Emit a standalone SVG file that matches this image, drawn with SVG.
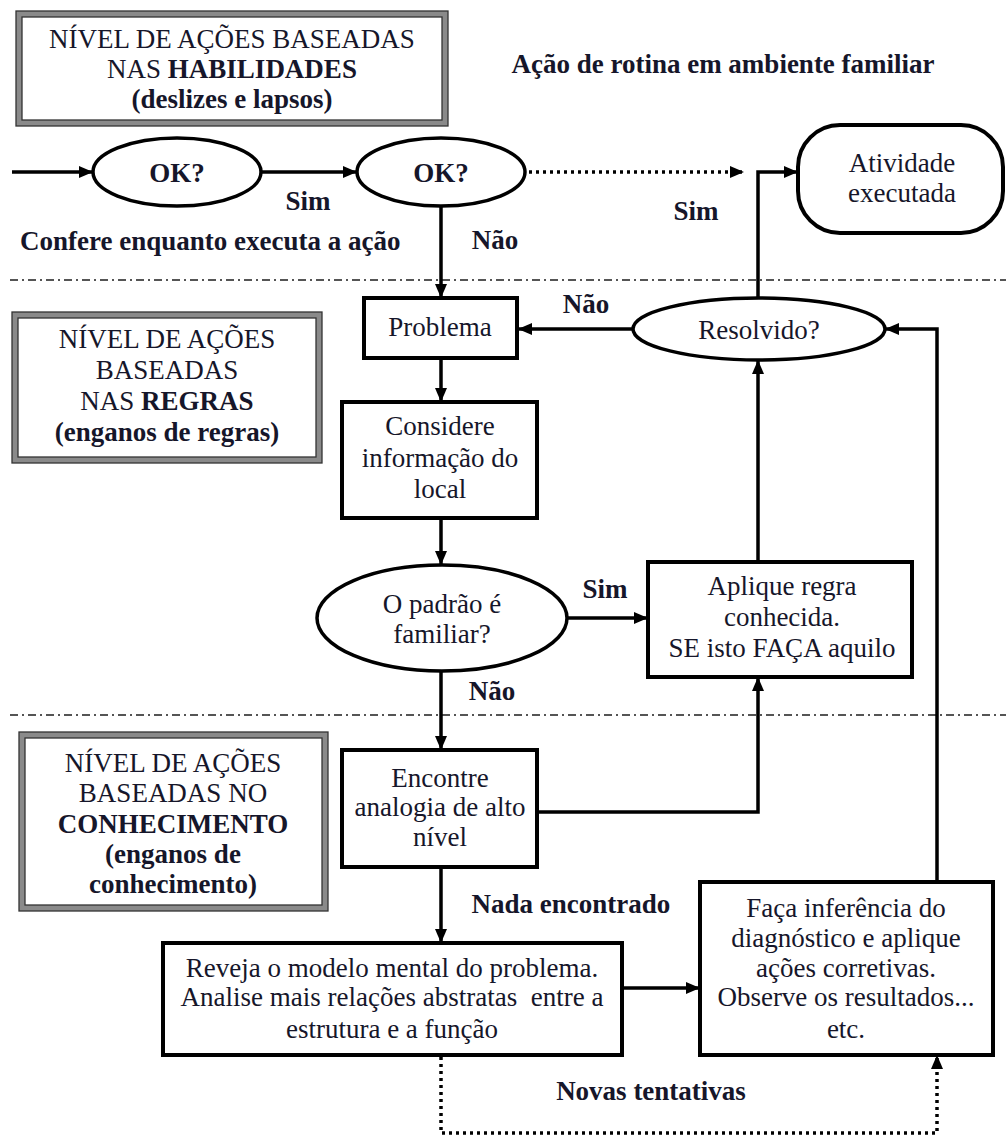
<svg xmlns="http://www.w3.org/2000/svg" width="1006" height="1137" viewBox="0 0 1006 1137">
<style>
  text { font-family: 'Liberation Serif', 'Tinos', 'DejaVu Serif', serif; font-size: 27px; fill: #16162a; text-anchor: middle; }
  .b { font-weight: bold; }
  .l { text-anchor: start; }
  .box { fill: #fff; stroke: #000; stroke-width: 4; }
  .ell { fill: #fff; stroke: #000; stroke-width: 3.5; }
  .frame-out { fill: #fff; stroke: #8a8a8a; stroke-width: 6; }
  .frame-line { fill: none; stroke: #333; stroke-width: 1.3; }
  .con { fill: none; stroke: #000; stroke-width: 3.5; }
  .dot { fill: none; stroke: #000; stroke-width: 3.5; stroke-dasharray: 3 4; }
  .sep { fill: none; stroke: #555; stroke-width: 2; stroke-dasharray: 8 4 2 4; }
</style>
<defs>
  <marker id="ah" markerUnits="userSpaceOnUse" markerWidth="14" markerHeight="12" refX="13" refY="6" orient="auto">
    <path d="M0,0 L14,6 L0,12 z" fill="#000"/>
  </marker>
</defs>
<rect width="1006" height="1137" fill="#fff"/>

<g id="separators">
  <line class="sep" x1="10" y1="280" x2="1006" y2="280"/>
  <line class="sep" x1="10" y1="715" x2="1006" y2="715"/>
</g>

<g id="connectors">
  <line class="con" x1="12" y1="172" x2="92" y2="172" marker-end="url(#ah)"/>
  <line class="con" x1="262" y1="172" x2="356" y2="172" marker-end="url(#ah)"/>
  <line class="dot" x1="529" y1="172" x2="743" y2="172" marker-end="url(#ah)"/>
  <line class="con" x1="441" y1="207" x2="441" y2="297" marker-end="url(#ah)"/>
  <polyline class="con" points="758,298 758,172 797,172" marker-end="url(#ah)"/>
  <line class="con" x1="633" y1="329" x2="519" y2="329" marker-end="url(#ah)"/>
  <line class="con" x1="441" y1="358" x2="441" y2="401" marker-end="url(#ah)"/>
  <line class="con" x1="441" y1="518" x2="441" y2="564" marker-end="url(#ah)"/>
  <line class="con" x1="567" y1="618" x2="647" y2="618" marker-end="url(#ah)"/>
  <line class="con" x1="758" y1="562" x2="758" y2="361" marker-end="url(#ah)"/>
  <line class="con" x1="441" y1="672" x2="441" y2="749" marker-end="url(#ah)"/>
  <polyline class="con" points="537,812 758,812 758,678" marker-end="url(#ah)"/>
  <line class="con" x1="441" y1="867" x2="441" y2="942" marker-end="url(#ah)"/>
  <line class="con" x1="622" y1="988" x2="699" y2="988" marker-end="url(#ah)"/>
  <polyline class="con" points="937,882 937,329 886,329" marker-end="url(#ah)"/>
  <polyline class="dot" points="441,1057 441,1133 937,1133 937,1056" marker-end="url(#ah)"/>
</g>

<g id="level-skills">
  <rect class="frame-out" x="19" y="14" width="426" height="109"/>
  <rect class="frame-line" x="16" y="11" width="432" height="115"/>
  <rect class="frame-line" x="22" y="17" width="420" height="103"/>
  <text x="232" y="48">NÍVEL DE AÇÕES BASEADAS</text>
  <text x="232" y="78">NAS <tspan class="b">HABILIDADES</tspan></text>
  <text x="232" y="108" class="b">(deslizes e lapsos)</text>
</g>

<g id="level-rules">
  <rect class="frame-out" x="15" y="315" width="304" height="145"/>
  <rect class="frame-line" x="12" y="312" width="310" height="151"/>
  <rect class="frame-line" x="18" y="318" width="298" height="139"/>
  <text x="167" y="348">NÍVEL DE AÇÕES</text>
  <text x="167" y="379">BASEADAS</text>
  <text x="167" y="410">NAS <tspan class="b">REGRAS</tspan></text>
  <text x="167" y="441" class="b">(enganos de regras)</text>
</g>

<g id="level-knowledge">
  <rect class="frame-out" x="22" y="735" width="303" height="173"/>
  <rect class="frame-line" x="19" y="732" width="309" height="179"/>
  <rect class="frame-line" x="25" y="738" width="297" height="167"/>
  <text x="173" y="772">NÍVEL DE AÇÕES</text>
  <text x="173" y="802">BASEADAS NO</text>
  <text x="173" y="833" class="b">CONHECIMENTO</text>
  <text x="173" y="863" class="b">(enganos de</text>
  <text x="173" y="893" class="b">conhecimento)</text>
</g>

<g id="labels">
  <text x="723" y="73" class="b">Ação de rotina em ambiente familiar</text>
  <text x="308" y="210" class="b">Sim</text>
  <text x="20" y="250" class="b l">Confere enquanto executa a ação</text>
  <text x="495" y="249" class="b">Não</text>
  <text x="696" y="220" class="b">Sim</text>
  <text x="586" y="313" class="b">Não</text>
  <text x="605" y="598" class="b">Sim</text>
  <text x="492" y="700" class="b">Não</text>
  <text x="571" y="913" class="b">Nada encontrado</text>
  <text x="651" y="1100" class="b">Novas tentativas</text>
</g>

<g id="ok1">
  <ellipse class="ell" cx="177" cy="172" rx="84" ry="34"/>
  <text x="177" y="182" class="b">OK?</text>
</g>

<g id="ok2">
  <ellipse class="ell" cx="441" cy="172" rx="84" ry="34"/>
  <text x="441" y="182" class="b">OK?</text>
</g>

<g id="atividade">
  <rect class="box" x="798" y="125" width="205" height="108" rx="42" ry="42"/>
  <text x="902" y="172">Atividade</text>
  <text x="902" y="202">executada</text>
</g>

<g id="problema">
  <rect class="box" x="364" y="298" width="153" height="60"/>
  <text x="440" y="336">Problema</text>
</g>

<g id="resolvido">
  <ellipse class="ell" cx="759" cy="329" rx="126" ry="31"/>
  <text x="759" y="339">Resolvido?</text>
</g>

<g id="considere">
  <rect class="box" x="342" y="402" width="195" height="116"/>
  <text x="440" y="435">Considere</text>
  <text x="440" y="467">informação do</text>
  <text x="440" y="498">local</text>
</g>

<g id="padrao">
  <ellipse class="ell" cx="442" cy="618" rx="125" ry="53"/>
  <text x="442" y="613">O padrão é</text>
  <text x="442" y="643">familiar?</text>
</g>

<g id="aplique">
  <rect class="box" x="648" y="562" width="264" height="115"/>
  <text x="782" y="595">Aplique regra</text>
  <text x="782" y="626">conhecida.</text>
  <text x="782" y="657">SE isto FAÇA aquilo</text>
</g>

<g id="encontre">
  <rect class="box" x="342" y="750" width="195" height="117"/>
  <text x="440" y="787">Encontre</text>
  <text x="440" y="816">analogia de alto</text>
  <text x="440" y="846">nível</text>
</g>

<g id="reveja">
  <rect class="box" x="163" y="943" width="459" height="112"/>
  <text x="392" y="977">Reveja o modelo mental do problema.</text>
  <text x="392" y="1006" xml:space="preserve">Analise mais relações abstratas  entre a</text>
  <text x="392" y="1038">estrutura e a função</text>
</g>

<g id="faca">
  <rect class="box" x="700" y="882" width="293" height="173"/>
  <text x="846" y="917">Faça inferência do</text>
  <text x="846" y="947">diagnóstico e aplique</text>
  <text x="846" y="977">ações corretivas.</text>
  <text x="846" y="1006">Observe os resultados...</text>
  <text x="846" y="1038">etc.</text>
</g>
</svg>
